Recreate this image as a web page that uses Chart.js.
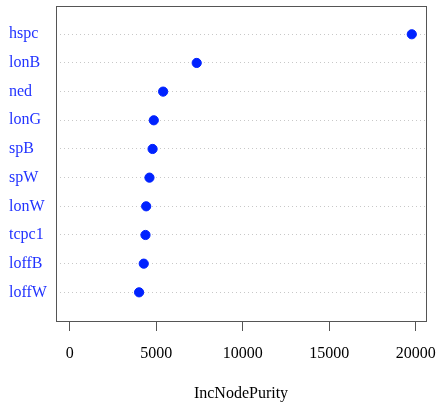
<!DOCTYPE html>
<html>
<head>
<meta charset="utf-8">
<script src="https://cdn.jsdelivr.net/npm/chart.js@4"></script>
<style>
  body { margin: 0; background: #fff; }
</style>
</head>
<body>
<canvas id="myChart" width="437" height="408"></canvas>
<script>
// variables, top to bottom as in the plot
const variables = ['hspc', 'lonB', 'ned', 'lonG', 'spB', 'spW', 'lonW', 'tcpc1', 'loffB', 'loffW'];
const purity = [19770, 7340, 5400, 4860, 4790, 4610, 4420, 4380, 4280, 4010];
const xTicks = [0, 5000, 10000, 15000, 20000];

const points = [];
for (let i = 0; i < variables.length; i++) {
  points.push({ x: purity[i], y: variables.length - i });
}

const boxPlugin = {
  id: 'box',
  afterDraw(chart) {
    const a = chart.chartArea;
    const c = chart.ctx;
    c.save();
    c.strokeStyle = '#555';
    c.lineWidth = 1;
    c.strokeRect(Math.round(a.left) + 0.5, Math.round(a.top) + 0.5,
      Math.round(a.right - a.left), Math.round(a.bottom - a.top));
    c.restore();
  }
};

const font = { family: '"Liberation Serif", "Times New Roman", serif', size: 16 };

new Chart(document.getElementById('myChart'), {
  type: 'scatter',
  data: {
    datasets: [{
      data: points,
      backgroundColor: '#0022ff',
      borderColor: '#0022ff',
      pointRadius: 4.6,
      pointHoverRadius: 4.6
    }]
  },
  options: {
    responsive: false,
    animation: false,
    layout: { padding: { left: 9, top: 5, right: 11, bottom: 5 } },
    plugins: { legend: { display: false }, tooltip: { enabled: false } },
    scales: {
      x: {
        type: 'linear',
        min: -792,
        max: 20592,
        afterBuildTicks: (axis) => { axis.ticks = xTicks.map(v => ({ value: v })); },
        afterFit: (axis) => {
          axis.height = 82;
          axis.paddingLeft = 0;
          axis.paddingRight = 0;
        },
        ticks: { font: font, color: '#000', padding: 13, maxRotation: 0, callback: (v) => String(v) },
        grid: { drawOnChartArea: false, drawTicks: true, tickLength: 10, color: '#555' },
        border: { display: false },
        title: { display: true, text: 'IncNodePurity', font: font, color: '#000', padding: 0 }
      },
      y: {
        type: 'linear',
        min: 0,
        max: 11,
        afterBuildTicks: (axis) => {
          axis.ticks = variables.map((v, i) => ({ value: variables.length - i }));
        },
        afterFit: (axis) => {
          axis.width = 47;
          axis.paddingTop = 0;
          axis.paddingBottom = 0;
        },
        ticks: {
          font: font,
          color: '#2233ff',
          padding: 0,
          crossAlign: 'far',
          callback: (v) => variables[variables.length - v]
        },
        grid: { color: '#c8c8c8', drawTicks: false, lineWidth: 1 },
        border: { display: false, dash: [1, 3] }
      }
    }
  },
  plugins: [boxPlugin]
});
</script>
</body>
</html>
